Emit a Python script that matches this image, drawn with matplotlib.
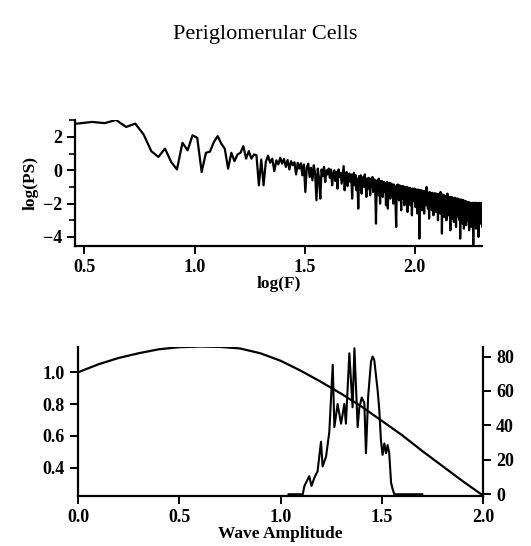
import numpy as np
import matplotlib
matplotlib.use("Agg")
import matplotlib.pyplot as plt
from matplotlib.ticker import MultipleLocator

plt.rcParams["font.family"] = ["Liberation Serif", "DejaVu Serif"]
plt.rcParams["font.weight"] = "bold"
plt.rcParams["axes.labelweight"] = "bold"

# ── data: power spectrum (top) ───────────────────────────────
F_START = 2.93   # first frequency bin
F_STEP = 0.49    # frequency resolution
log_ps = [
    2.80, 2.90, 2.83, 3.02, 2.60, 2.80, 2.15, 1.15, 0.80, 1.30,
    0.50, 0.05, 1.65, 1.20, 2.10, 1.95, -0.10, 1.05, 1.12, 1.70,
    2.05, 1.60, 1.30, 0.10, 1.05, 0.55, 0.95, 1.05, 1.45, 0.70,
    1.15, 0.70, 0.95, 0.90, -0.90, 0.65, -0.90, 0.50,
    0.88, 0.45, 0.70, -0.05, 0.60, 0.35, 0.75, 0.40, 0.68, 0.20,
    0.62, 0.05, 0.55, 0.30, 0.48, -0.25, 0.45, 0.10, 0.42, -0.30,
    0.35, -1.30, 0.20, 0.40, -0.40, 0.15, -0.60, 0.30, -0.20, -1.80,
    0.10, -0.50, -1.70, 0.05, -0.35, 0.20, -0.70, 0.00, -0.25, 0.10,
    -0.45, 0.05, -0.90, -0.20, 0.00, -0.65, -0.10, -1.10, 0.05, -0.40,
    -0.15, -0.80, -0.30, 0.25, -1.20, -0.45, -0.10, -0.95, -0.35, -0.20,
    -0.70, -0.25, -1.70, -0.40, -0.15, -0.90, -0.30, -1.20, -0.50, -2.30,
    -0.35, -0.80, -0.30, -1.40, -0.55, -0.40, -1.00, -0.25, -0.75, -1.60,
    -0.50, -1.10, -0.45, -0.85, -1.50, -0.50, -0.95, -0.40, -1.30, -0.70,
    -0.55, -1.20, -3.20, -0.90, -0.60, -1.50, -0.50, -1.00, -2.00, -0.65,
    -1.10, -0.65, -1.60, -0.90, -0.70, -1.30, -0.75, -2.10, -0.95, -0.70,
    -2.30, -0.85, -1.20, -0.75, -1.70, -1.00, -0.80, -1.40, -0.90, -2.00,
    -0.85, -1.30, -1.00, -2.20, -3.40, -0.90, -1.50, -0.85, -1.20, -1.80,
    -0.90, -1.40, -1.10, -2.40, -0.95, -1.25, -1.70, -0.95, -1.35, -2.10,
    -1.00, -1.50, -1.10, -1.90, -1.00, -2.50, -1.30, -1.05, -1.75, -1.20,
    -1.05, -2.10, -1.30, -1.10, -2.70, -1.40, -1.10, -1.85, -1.25, -1.60,
    -1.10, -2.20, -1.40, -1.15, -1.90, -1.30, -2.60, -1.15, -1.50, -1.20,
    -4.10, -1.40, -1.20, -2.00, -1.35, -1.20, -2.40, -1.50, -1.25, -1.80,
    -1.30, -2.60, -1.25, -1.60, -1.35, -2.10, -1.30, -1.00, -1.75, -1.40,
    -2.30, -1.35, -1.50, -2.90, -1.30, -1.70, -2.20, -1.35, -1.60, -1.40,
    -2.40, -1.35, -1.80, -1.50, -2.70, -1.40, -1.60, -2.10, -1.38, -1.90,
    -1.45, -2.50, -1.40, -1.70, -2.00, -1.42, -3.00, -1.55, -1.45, -2.20,
    -1.50, -1.75, -2.60, -1.30, -1.60, -2.30, -1.50, -3.80, -1.70, -1.45,
    -2.10, -1.55, -1.80, -2.80, -1.50, -1.70, -2.40, -1.55, -2.00, -1.60,
    -3.00, -1.60, -1.85, -1.40, -2.30, -1.60, -2.70, -1.65, -1.90, -2.20,
    -1.60, -2.50, -3.60, -1.65, -1.90, -2.20, -1.60, -2.90, -1.70, -2.00,
    -1.65, -2.40, -1.80, -3.10, -1.70, -2.10, -1.65, -2.60, -1.90, -1.70,
    -3.40, -1.75, -2.20, -1.70, -2.50, -1.95, -1.70, -2.80, -2.00, -1.75,
    -2.30, -1.75, -3.00, -2.00, -4.10, -1.80, -2.40, -1.75, -2.70, -2.00,
    -1.80, -2.50, -3.20, -1.80, -2.10, -2.60, -1.80, -3.50, -2.00, -1.85,
    -2.40, -1.85, -2.90, -2.10, -1.85, -3.30, -2.20, -1.90, -2.60, -2.00,
    -3.00, -1.90, -2.30, -2.80, -1.90, -2.20, -3.60, -1.95, -2.50, -2.10,
    -1.95, -3.10, -2.30, -2.00, -2.70, -3.40, -2.00, -2.40, -1.95, -2.90,
    -2.20, -2.00, -4.45, -2.30, -1.95, -2.80, -2.10, -3.20, -2.00, -2.50,
    -1.95, -2.90, -2.20, -3.50, -2.00, -2.60, -1.95, -3.00, -2.30, -2.05,
    -3.30, -2.10, -2.50, -4.00, -2.00, -2.70, -1.95, -2.40, -3.10, -2.05,
    -2.60, -2.00, -3.20, -2.10, -2.50, -1.95, -3.00, -2.20, -2.10, -3.40,
    -2.30, -2.05, -2.90,
]

# ── data: wave amplitude (bottom) ────────────────────────────
amp_x = [0.0, 0.1, 0.2, 0.3, 0.4, 0.5, 0.6, 0.7, 0.8, 0.9, 1.0,
         1.1, 1.2, 1.3, 1.4, 1.5, 1.6, 1.7, 1.8, 1.9, 2.0]
amp_y = [1.000, 1.050, 1.090, 1.120, 1.145, 1.158, 1.162, 1.160, 1.150, 1.120, 1.073,
         1.010, 0.940, 0.865, 0.785, 0.695, 0.605, 0.505, 0.410, 0.315, 0.225]

hist_x = [1.040, 1.110, 1.118, 1.142, 1.153, 1.167, 1.183, 1.200, 1.208, 1.225,
          1.241, 1.258, 1.266, 1.282, 1.299, 1.315, 1.323, 1.340, 1.356, 1.365,
          1.381, 1.389, 1.401, 1.414, 1.422, 1.433, 1.447, 1.455, 1.463, 1.480,
          1.488, 1.496, 1.504, 1.513, 1.521, 1.529, 1.537, 1.546, 1.554, 1.562,
          1.700]
hist_n = [0, 0, 4.8, 10.5, 4.8, 9.5, 13.3, 30.5, 16.2, 21.9,
          36.2, 75.2, 39, 52.4, 41, 52.4, 41, 81.9, 50.5, 84.8,
          39, 50, 56.2, 53, 23.8, 57, 77.1, 80, 78, 60,
          48.6, 31.4, 22.9, 29.5, 23.8, 28.6, 23.8, 6.7, 2.9, 0,
          0]

freq = F_START + F_STEP * np.arange(len(log_ps))
log_f = np.log10(freq)

fig = plt.figure(figsize=(5.31, 5.46), dpi=100)
fig.text(0.499, 0.937, "Periglomerular Cells", ha="center", va="center",
         fontsize=16, fontweight="normal")

TICK_KW = dict(direction="out", width=1.4, labelsize=13, colors="black")

# ── top panel ────────────────────────────────────────────────
ax1 = fig.add_axes([0.1412, 0.5495, 0.7665, 0.2308])
ax1.plot(log_f, log_ps, color="black", lw=1.6)
ax1.set_xlim(0.457, 2.305)
ax1.set_ylim(-4.54, 3.02)
ax1.set_xticks([0.5, 1.0, 1.5, 2.0])
ax1.set_yticks([-4, -2, 0, 2])
ax1.yaxis.set_minor_locator(MultipleLocator(1))
ax1.tick_params(which="major", length=6, **TICK_KW)
ax1.tick_params(which="minor", length=4, width=1.2, direction="out")
ax1.xaxis.set_major_formatter(plt.FormatStrFormatter("%.1f"))
for s in ["top", "right"]:
    ax1.spines[s].set_visible(False)
for s in ["left", "bottom"]:
    ax1.spines[s].set_linewidth(1.6)
ax1.set_xlabel("log(F)", fontsize=12.5, labelpad=0)
ax1.set_ylabel("log(PS)", fontsize=12.5, labelpad=3)

# ── bottom panel ─────────────────────────────────────────────
ax2 = fig.add_axes([0.1469, 0.0916, 0.7627, 0.2734])
ax2.plot(amp_x, amp_y, color="black", lw=1.6)
ax2.set_xlim(0.0, 2.0)
ax2.set_ylim(0.222, 1.161)
ax2.set_xticks([0.0, 0.5, 1.0, 1.5, 2.0])
ax2.set_yticks([0.4, 0.6, 0.8, 1.0])
ax2.xaxis.set_major_formatter(plt.FormatStrFormatter("%.1f"))
ax2.yaxis.set_major_formatter(plt.FormatStrFormatter("%.1f"))
ax2.tick_params(which="major", length=6, **TICK_KW)
ax2.spines["top"].set_visible(False)
ax2.spines["right"].set_visible(False)
for s in ["left", "bottom"]:
    ax2.spines[s].set_linewidth(1.6)
ax2.set_xlabel("Wave Amplitude", fontsize=12.5, labelpad=0)

ax3 = ax2.twinx()
ax3.plot(hist_x, hist_n, color="black", lw=1.5)
ax3.set_ylim(-1.0, 85.7)
ax3.set_yticks([0, 20, 40, 60, 80])
ax3.tick_params(which="major", length=6, **TICK_KW)
for s in ["top", "left", "bottom"]:
    ax3.spines[s].set_visible(False)
ax3.spines["right"].set_linewidth(1.6)

plt.savefig("out.png", dpi=100)
